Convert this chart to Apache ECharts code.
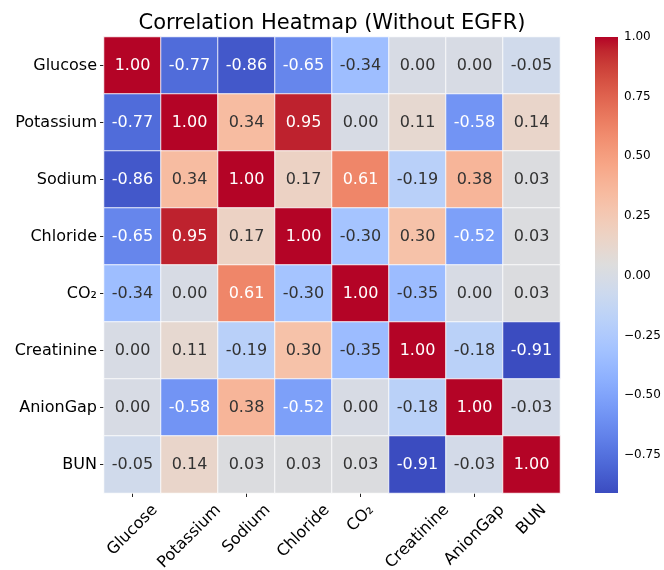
<!DOCTYPE html>
<html>
<head>
<meta charset="utf-8">
<style>
  html, body { margin: 0; padding: 0; background: #fff; }
  #chart { width: 664px; height: 570px; }
</style>
<script src="https://cdn.jsdelivr.net/npm/echarts@6/dist/echarts.min.js"></script>
</head>
<body>
<div id="chart"></div>
<script>
// Variables shown on both axes
const labels = ['Glucose', 'Potassium', 'Sodium', 'Chloride', 'CO₂', 'Creatinine', 'AnionGap', 'BUN'];

// Correlation matrix, one row per variable
const rowGlucose    = [ 1.00, -0.77, -0.86, -0.65, -0.34,  0.00,  0.00, -0.05];
const rowPotassium  = [-0.77,  1.00,  0.34,  0.95,  0.00,  0.11, -0.58,  0.14];
const rowSodium     = [-0.86,  0.34,  1.00,  0.17,  0.61, -0.19,  0.38,  0.03];
const rowChloride   = [-0.65,  0.95,  0.17,  1.00, -0.30,  0.30, -0.52,  0.03];
const rowCO2        = [-0.34,  0.00,  0.61, -0.30,  1.00, -0.35,  0.00,  0.03];
const rowCreatinine = [ 0.00,  0.11, -0.19,  0.30, -0.35,  1.00, -0.18, -0.91];
const rowAnionGap   = [ 0.00, -0.58,  0.38, -0.52,  0.00, -0.18,  1.00, -0.03];
const rowBUN        = [-0.05,  0.14,  0.03,  0.03,  0.03, -0.91, -0.03,  1.00];
const matrix = [rowGlucose, rowPotassium, rowSodium, rowChloride, rowCO2, rowCreatinine, rowAnionGap, rowBUN];

// Colour scale limits and colourbar ticks
const scaleMin = -0.91;
const scaleMax = 1.00;
const barTicks = [-0.75, -0.50, -0.25, 0.00, 0.25, 0.50, 0.75, 1.00];

// Diverging cool-warm palette, evenly spaced from low to high
const coolwarm = [
  [59,76,192],[68,90,204],[77,104,215],[87,117,225],[98,130,234],[108,142,241],
  [119,154,247],[130,165,251],[141,176,254],[152,185,255],[163,194,255],[174,201,253],
  [184,208,249],[194,213,244],[204,217,238],[213,219,230],[221,221,221],[229,216,209],
  [236,211,197],[241,204,185],[245,196,173],[247,187,160],[247,177,148],[247,166,135],
  [244,154,123],[241,141,111],[236,127,99],[229,112,88],[222,96,77],[213,80,66],
  [203,62,56],[192,40,47],[180,4,38]
];
const toHex = c => '#' + c.map(v => Math.round(v).toString(16).padStart(2, '0')).join('');
const paletteHex = coolwarm.map(toHex);

function colourAt(v) {
  let t = (v - scaleMin) / (scaleMax - scaleMin);
  t = Math.max(0, Math.min(1, t)) * (coolwarm.length - 1);
  const i = Math.min(Math.floor(t), coolwarm.length - 2);
  const f = t - i;
  return coolwarm[i].map((c, k) => c + (coolwarm[i + 1][k] - c) * f);
}
function luminance(rgb) {
  const lin = rgb.map(c => {
    c = c / 255;
    return c <= 0.03928 ? c / 12.92 : Math.pow((c + 0.055) / 1.055, 2.4);
  });
  return 0.2126 * lin[0] + 0.7152 * lin[1] + 0.0722 * lin[2];
}

const FONT = 'DejaVu Sans';
const LABEL_SIZE = 16;

// text measurement for the rotated column labels
const measureCtx = document.createElement('canvas').getContext('2d');
measureCtx.font = LABEL_SIZE + 'px "' + FONT + '"';
const textWidth = s => measureCtx.measureText(s).width;

const cells = [];
matrix.forEach((row, r) => {
  row.forEach((v, c) => {
    const light = luminance(colourAt(v)) > 0.408;
    cells.push({
      value: [c, r, v],
      label: { color: light ? '#333333' : '#ffffff' }
    });
  });
});

const chart = echarts.init(document.getElementById('chart'), null, { renderer: 'canvas' });

chart.setOption({
  backgroundColor: '#ffffff',
  animation: false,
  textStyle: { fontFamily: FONT },
  title: {
    text: 'Correlation Heatmap (Without EGFR)',
    left: 'center',
    top: 8,
    textStyle: { fontFamily: FONT, fontSize: 21, fontWeight: 'normal', color: '#000' }
  },
  grid: [
    { left: 104, top: 37, width: 456, height: 456 },
    { left: 595, top: 37, width: 23, height: 456 }
  ],
  xAxis: [
    {
      gridIndex: 0, type: 'category', data: labels,
      axisLine: { show: false },
      axisTick: { show: true, alignWithLabel: true, length: 4, lineStyle: { color: '#222' } },
      axisLabel: { show: false },
      splitLine: { show: false }
    },
    {
      gridIndex: 1, type: 'value', min: 0, max: 1, show: false
    }
  ],
  yAxis: [
    {
      gridIndex: 0, type: 'category', data: labels, inverse: true,
      axisLine: { show: false },
      axisTick: { show: true, alignWithLabel: true, length: 4, lineStyle: { color: '#222' } },
      axisLabel: { fontSize: LABEL_SIZE, color: '#000', fontFamily: FONT, margin: 7, interval: 0 },
      splitLine: { show: false }
    },
    {
      gridIndex: 1, type: 'value', min: scaleMin, max: scaleMax, position: 'right',
      axisLine: { show: false },
      axisTick: { show: true, length: 4, customValues: barTicks, lineStyle: { color: '#222' } },
      axisLabel: {
        fontSize: 12, color: '#000', fontFamily: FONT, margin: 6,
        customValues: barTicks,
        formatter: v => (v < 0 ? '\u2212' : '') + Math.abs(v).toFixed(2)
      },
      splitLine: { show: false }
    }
  ],
  visualMap: {
    show: false,
    type: 'continuous',
    min: scaleMin,
    max: scaleMax,
    dimension: 2,
    seriesIndex: 0,
    inRange: { color: paletteHex }
  },
  series: [
    {
      type: 'heatmap',
      xAxisIndex: 0, yAxisIndex: 0,
      data: cells,
      itemStyle: { borderColor: 'rgba(255,255,255,0.85)', borderWidth: 1 },
      label: {
        show: true,
        fontSize: 16,
        fontFamily: FONT,
        formatter: p => p.value[2].toFixed(2)
      },
      emphasis: { disabled: true }
    },
    {
      // column labels rotated 45°, each centred horizontally on its tick
      type: 'custom',
      xAxisIndex: 0, yAxisIndex: 0,
      data: labels.map((name, i) => [i, 0]),
      silent: true,
      clip: false,
      renderItem: (params, api) => {
        const name = labels[params.dataIndex];
        const cx = api.coord([api.value(0), 0])[0];
        const bottom = params.coordSys.y + params.coordSys.height;
        const w = textWidth(name);
        const h = LABEL_SIZE * 1.17;
        const half = (w + h) / (2 * Math.SQRT2);
        return {
          type: 'text',
          x: cx,
          y: bottom + 8 + half,
          rotation: Math.PI / 4,
          style: {
            text: name,
            fontSize: LABEL_SIZE,
            fontFamily: FONT,
            fill: '#000',
            align: 'center',
            verticalAlign: 'middle'
          }
        };
      }
    },
    {
      // colourbar strip spanning the scale range
      type: 'custom',
      xAxisIndex: 1, yAxisIndex: 1,
      data: [[0, scaleMax, 1, scaleMin]],
      silent: true,
      renderItem: (params, api) => {
        const p0 = api.coord([api.value(0), api.value(1)]);
        const p1 = api.coord([api.value(2), api.value(3)]);
        const stops = paletteHex.map((c, i) => ({ offset: 1 - i / (paletteHex.length - 1), color: c }));
        return {
          type: 'rect',
          shape: { x: p0[0], y: p0[1], width: p1[0] - p0[0], height: p1[1] - p0[1] },
          style: { fill: new echarts.graphic.LinearGradient(0, 0, 0, 1, stops) }
        };
      }
    }
  ]
});
</script>
</body>
</html>
